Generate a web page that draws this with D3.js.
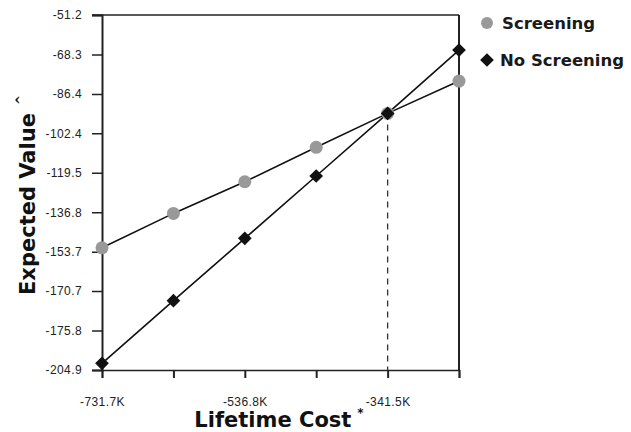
<!DOCTYPE html>
<html>
<head>
<meta charset="utf-8">
<script src="https://cdn.jsdelivr.net/npm/d3@7"></script>
<style>
  html, body { margin: 0; padding: 0; background: #fff; }
  #chart { width: 631px; height: 432px; }
  .tick-label { font-family: "Liberation Sans", Arial, sans-serif; font-size: 12px; fill: #222; letter-spacing: 0.4px; }
  .axis-title { font-family: "DejaVu Sans", Verdana, sans-serif; font-weight: bold; font-size: 21px; fill: #111; }
  .legend-text { font-family: "DejaVu Sans", Verdana, sans-serif; font-weight: bold; font-size: 16.5px; fill: #1a1a1a; }
</style>
</head>
<body>
<div id="chart"></div>
<script>
// lifetime cost (thousands) for each strategy point
const costs = [-731.7, -634.1, -536.6, -439.1, -341.5, -244.0];
const screening = [-152.0, -137.1, -123.4, -108.5, -93.8, -79.8];
const noScreening = [-202.0, -174.9, -147.9, -120.9, -93.8, -66.4];
const crossCost = -341.5;
const crossValue = -93.8;

const yTickValues = [-51.2, -68.3, -85.4, -102.4, -119.5, -136.6, -153.7, -170.7, -187.8, -204.9];
const yTickLabels = ["-51.2", "-68.3", "-86.4", "-102.4", "-119.5", "-136.8", "-153.7", "-170.7", "-175.8", "-204.9"];
const xTickLabels = ["-731.7K", "", "-536.8K", "", "-341.5K", ""];

const seriesNames = ["Screening", "No Screening"];

document.addEventListener('DOMContentLoaded', function() {
    const svg = d3.select("#chart").append("svg")
        .attr("width", 631)
        .attr("height", 432);

    const xScale = d3.scaleLinear()
        .domain([costs[0], costs[costs.length - 1]])
        .range([102, 459]);
    const yScale = d3.scaleLinear()
        .domain([-204.9, -51.2])
        .range([370, 15]);

    const x0 = xScale.range()[0], x1 = xScale.range()[1];
    const yb = yScale.range()[0], yt = yScale.range()[1];

    // frame: top and right lines
    svg.append("line").attr("x1", x0 - 10).attr("x2", x1).attr("y1", yt).attr("y2", yt)
        .attr("stroke", "#222").attr("stroke-width", 1.5);
    svg.append("line").attr("x1", x1).attr("x2", x1).attr("y1", yt).attr("y2", yb)
        .attr("stroke", "#222").attr("stroke-width", 2);

    // left axis
    const yAxis = d3.axisLeft(yScale)
        .tickValues(yTickValues)
        .tickSize(10)
        .tickPadding(10)
        .tickFormat((d, i) => yTickLabels[i]);
    const gy = svg.append("g")
        .attr("transform", `translate(${x0},0)`)
        .call(yAxis);
    gy.select(".domain").attr("stroke", "#222").attr("stroke-width", 2);
    gy.selectAll(".tick line").attr("stroke", "#222").attr("stroke-width", 1.5);
    gy.selectAll(".tick text").attr("class", "tick-label");

    // bottom axis
    const xAxis = d3.axisBottom(xScale)
        .tickValues(costs)
        .tickSize(8)
        .tickPadding(19)
        .tickFormat((d, i) => xTickLabels[i]);
    const gx = svg.append("g")
        .attr("transform", `translate(0,${yb})`)
        .call(xAxis);
    gx.select(".domain").attr("stroke", "#222").attr("stroke-width", 1.5);
    gx.selectAll(".tick line").attr("stroke", "#222").attr("stroke-width", 2);
    gx.selectAll(".tick text").attr("class", "tick-label");

    // dashed threshold line
    svg.append("line")
        .attr("x1", xScale(crossCost)).attr("x2", xScale(crossCost))
        .attr("y1", yScale(crossValue)).attr("y2", yb)
        .attr("stroke", "#333").attr("stroke-width", 1.3)
        .attr("stroke-dasharray", "6,5");

    const line = d3.line()
        .x((d, i) => xScale(costs[i]))
        .y(d => yScale(d));

    svg.append("path").datum(screening)
        .attr("fill", "none").attr("stroke", "#111").attr("stroke-width", 1.6)
        .attr("d", line);
    svg.append("path").datum(noScreening)
        .attr("fill", "none").attr("stroke", "#111").attr("stroke-width", 1.6)
        .attr("d", line);

    const diamond = d3.symbol().type(d3.symbolDiamond2).size(120);

    svg.selectAll(".dot-s").data(screening).enter().append("circle")
        .attr("cx", (d, i) => xScale(costs[i]))
        .attr("cy", d => yScale(d))
        .attr("r", 6.5)
        .attr("fill", "#999");

    svg.selectAll(".dot-n").data(noScreening).enter().append("path")
        .attr("d", diamond)
        .attr("transform", (d, i) => `translate(${xScale(costs[i])},${yScale(d)})`)
        .attr("fill", "#111");

    // legend
    const legend = svg.append("g");
    legend.append("circle").attr("cx", 487).attr("cy", 23).attr("r", 6).attr("fill", "#999");
    legend.append("text").attr("class", "legend-text").attr("x", 502).attr("y", 29).text(seriesNames[0]);
    legend.append("path").attr("d", diamond).attr("transform", "translate(487,60)").attr("fill", "#111");
    legend.append("text").attr("class", "legend-text").attr("x", 500).attr("y", 66).text(seriesNames[1]);

    // axis titles
    const xt = svg.append("text").attr("class", "axis-title")
        .attr("x", 279).attr("y", 427).attr("text-anchor", "middle")
        .text("Lifetime Cost");
    xt.append("tspan").attr("dx", 6).attr("dy", -10).attr("font-size", 12).text("*");

    const yt2 = svg.append("text").attr("class", "axis-title")
        .attr("transform", "translate(35,195) rotate(-90)")
        .attr("text-anchor", "middle")
        .text("Expected Value");
    yt2.append("tspan").attr("dx", 8).attr("dy", -10).attr("font-size", 12).text("^");
});
</script>
</body>
</html>
